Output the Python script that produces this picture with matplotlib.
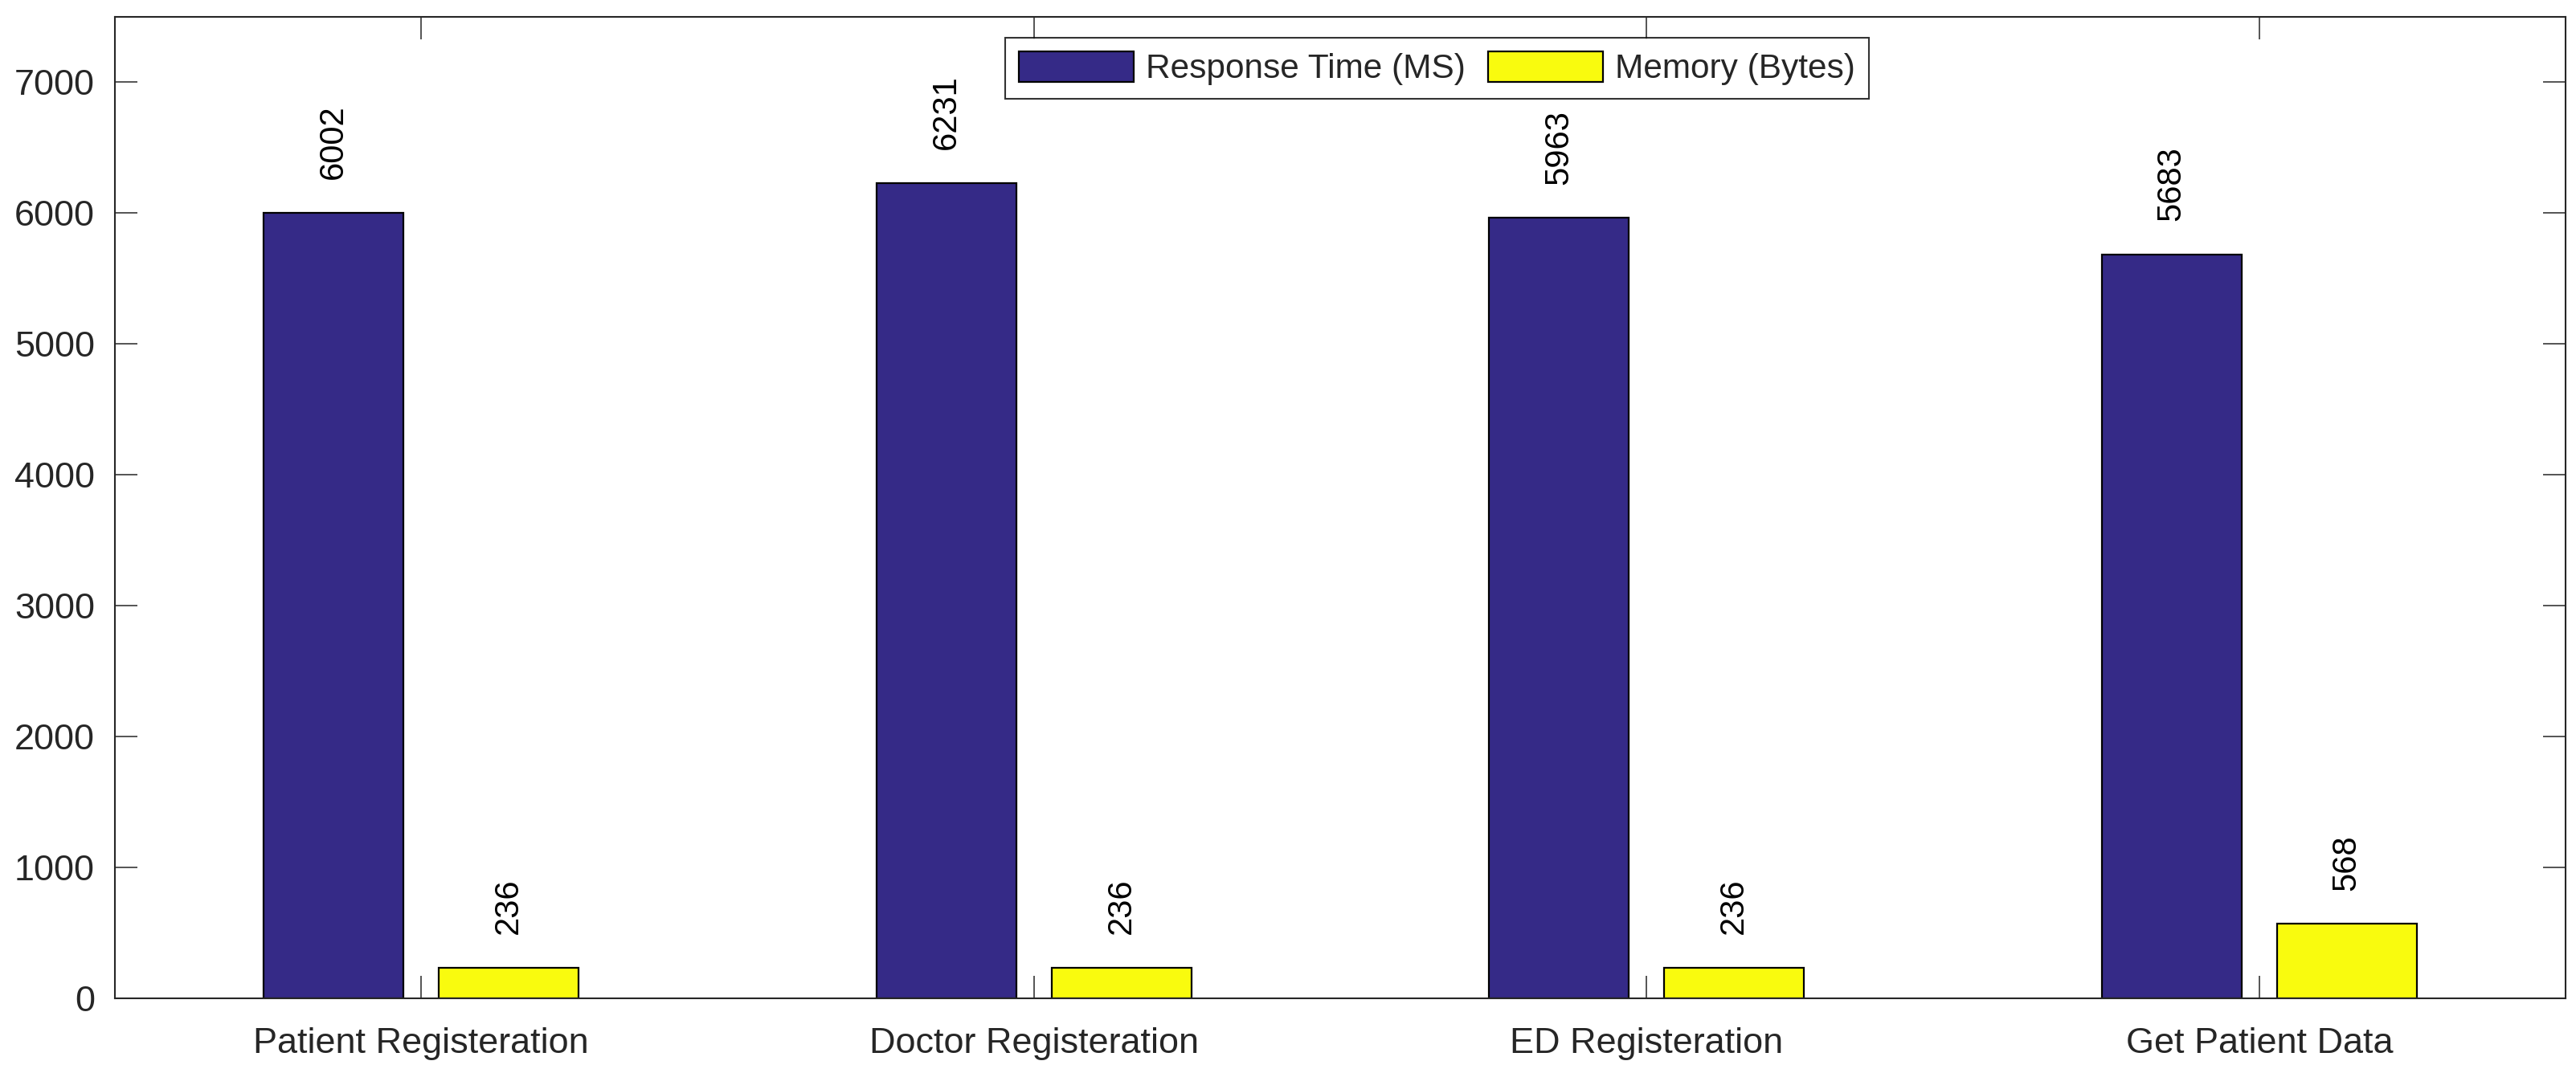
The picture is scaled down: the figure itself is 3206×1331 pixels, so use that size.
import numpy as np
import matplotlib
matplotlib.use("Agg")
import matplotlib.pyplot as plt

plt.rcParams['font.family'] = ['Liberation Sans', 'DejaVu Sans']

# data
tasks = ["Patient Registeration", "Doctor Registeration", "ED Registeration", "Get Patient Data"]
response_ms = [6002, 6231, 5963, 5683]
memory_bytes = [236, 236, 236, 568]
series_names = ["Response Time (MS)", "Memory (Bytes)"]
yticks = [0, 1000, 2000, 3000, 4000, 5000, 6000, 7000]

dark = '#262626'
col_blue = '#352A87'
col_yel = '#F9FB0E'

fig = plt.figure(figsize=(32.06, 13.31), dpi=100)
ax = fig.add_axes([143/3206, 1 - 1243/1331, (3193-143)/3206, (1243-20.7)/1331])

x = np.arange(1, len(tasks) + 1)
w = 0.2286
off = 0.1429
b1 = ax.bar(x - off, response_ms, w, color=col_blue, edgecolor='black', linewidth=1.6, label=series_names[0])
b2 = ax.bar(x + off, memory_bytes, w, color=col_yel, edgecolor='black', linewidth=1.6, label=series_names[1])

# value labels, rotated like the original
for bars, vals in [(b1, response_ms), (b2, memory_bytes)]:
    for r, v in zip(bars, vals):
        ax.annotate(str(v), (r.get_x() + r.get_width()/2, v), xytext=(0, 30),
                    textcoords='offset points', rotation=90, ha='center', va='bottom',
                    fontsize=30, color='black')

ax.set_xlim(0.5, 4.5)
ax.set_ylim(0, 7500)
ax.set_xticks(x)
ax.set_xticklabels(tasks)
ax.set_yticks(yticks)

ax.tick_params(axis='both', direction='in', length=20.5, width=1.1, colors=dark,
               labelsize=32.4, top=True, right=True, labelcolor=dark)
ax.tick_params(axis='y', pad=18)
ax.tick_params(axis='x', pad=26)
for s in ax.spines.values():
    s.set_color(dark)
    s.set_linewidth(1.5)

leg = ax.legend(loc='upper left', bbox_to_anchor=(0.3633, 0.9787), borderaxespad=0,
                ncol=2, fontsize=30.5, frameon=True, fancybox=False,
                handlelength=3.38, handleheight=1.0, handletextpad=0.35,
                columnspacing=0.66, borderpad=0.4)
leg.get_frame().set_edgecolor('black')
leg.get_frame().set_linewidth(1.5)
for t in leg.get_texts():
    t.set_color(dark)

fig.savefig('out.png', dpi=100)
